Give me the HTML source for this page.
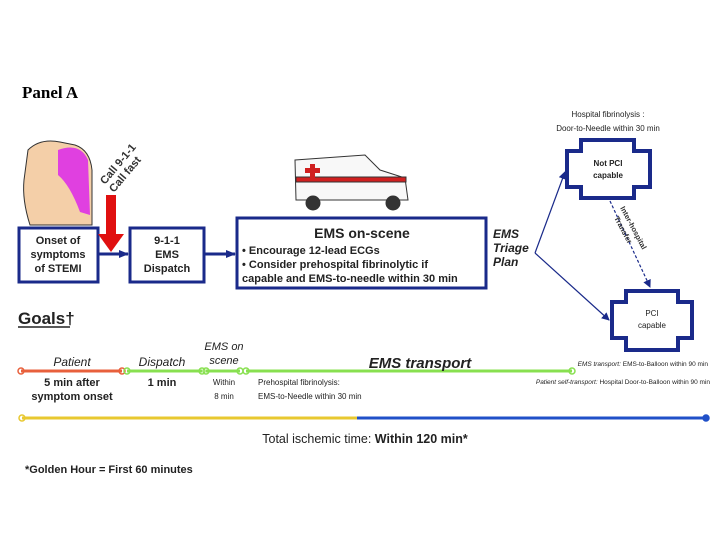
<!DOCTYPE html>
<html><head><style>
body{margin:0;background:#fff}
svg{display:block;font-family:"Liberation Sans",sans-serif}
</style></head><body>
<svg width="720" height="540" viewBox="0 0 720 540">
<defs>
<marker id="ah" markerUnits="userSpaceOnUse" markerWidth="8" markerHeight="8" refX="7" refY="4" orient="auto"><path d="M0,0 L8,4 L0,8 z" fill="#1a2a8a"/></marker>
<marker id="ah2" markerUnits="userSpaceOnUse" markerWidth="10" markerHeight="10" refX="9" refY="5" orient="auto"><path d="M0,1 L10,5 L0,9 z" fill="#1a2a8a"/></marker>
</defs>
<text x="22" y="98" font-family="Liberation Serif" font-weight="bold" font-size="17">Panel A</text>
<!-- person -->
<path d="M28,150 Q40,138 60,142 L75,145 Q90,150 92,170 L92,225 L30,225 Q22,200 24,180 Z" fill="#f4cfa8" stroke="#333" stroke-width="1"/>
<path d="M58,150 Q80,142 88,160 L90,215 L80,212 Q70,185 58,175 Z" fill="#e040e0"/>
<text transform="translate(105,185) rotate(-50)" font-size="11" font-weight="bold" fill="#333">Call 9-1-1</text>
<text transform="translate(114,193) rotate(-50)" font-size="11" font-weight="bold" fill="#333">Call fast</text>
<!-- boxes -->
<rect x="19" y="228" width="79" height="54" fill="#fff" stroke="#1a2a8a" stroke-width="3"/>
<text font-size="11" font-weight="bold" fill="#222" text-anchor="middle"><tspan x="58" y="244">Onset of</tspan><tspan x="58" y="258">symptoms</tspan><tspan x="58" y="272">of STEMI</tspan></text>
<rect x="130" y="228" width="74" height="54" fill="#fff" stroke="#1a2a8a" stroke-width="3"/>
<text font-size="11" font-weight="bold" fill="#222" text-anchor="middle"><tspan x="167" y="244">9-1-1</tspan><tspan x="167" y="258">EMS</tspan><tspan x="167" y="272">Dispatch</tspan></text>
<line x1="98" y1="254" x2="128" y2="254" stroke="#1a2a8a" stroke-width="3" marker-end="url(#ah2)"/>
<line x1="204" y1="254" x2="235" y2="254" stroke="#1a2a8a" stroke-width="3" marker-end="url(#ah2)"/>
<!-- red arrow -->
<rect x="106" y="195" width="10" height="40" fill="#e01010"/>
<path d="M98,234 L124,234 L111,252 Z" fill="#e01010"/>
<rect x="237" y="218" width="249" height="70" fill="#fff" stroke="#1a2a8a" stroke-width="3"/>
<text x="362" y="238" font-size="14" font-weight="bold" text-anchor="middle" fill="#222">EMS on-scene</text>
<text font-size="11" font-weight="bold" fill="#222"><tspan x="242" y="254">• Encourage 12-lead ECGs</tspan><tspan x="242" y="268">• Consider prehospital fibrinolytic if</tspan><tspan x="242" y="282">capable and EMS-to-needle within 30 min</tspan></text>
<!-- ambulance -->
<g stroke="#333" stroke-width="1">
<path d="M295,160 L365,155 L380,170 L405,178 L408,200 L296,200 Z" fill="#f8f8f8"/>
<rect x="296" y="177" width="110" height="5" fill="#d02020"/>
<rect x="310" y="164" width="5" height="14" fill="#d02020" stroke="none"/>
<rect x="305" y="168" width="15" height="5" fill="#d02020" stroke="none"/>
<circle cx="313" cy="203" r="7" fill="#333"/><circle cx="393" cy="203" r="7" fill="#333"/>
</g>
<text font-size="12" font-weight="bold" font-style="italic" fill="#222"><tspan x="493" y="238">EMS</tspan><tspan x="493" y="252">Triage</tspan><tspan x="493" y="266">Plan</tspan></text>
<!-- hospitals -->
<text x="608" y="117" font-size="8" text-anchor="middle" fill="#222">Hospital fibrinolysis :</text>
<text x="608" y="131" font-size="8" text-anchor="middle" fill="#222">Door-to-Needle within 30 min</text>
<path d="M581,140 L634,140 L634,151 L650,151 L650,187 L634,187 L634,198 L581,198 L581,187 L567,187 L567,151 L581,151 Z" fill="#fff" stroke="#1a2a8a" stroke-width="4"/>
<text font-size="8" font-weight="bold" text-anchor="middle" fill="#222"><tspan x="608" y="166">Not PCI</tspan><tspan x="608" y="178">capable</tspan></text>
<path d="M626,291 L678,291 L678,302 L692,302 L692,338 L678,338 L678,350 L626,350 L626,338 L612,338 L612,302 L626,302 Z" fill="#fff" stroke="#1a2a8a" stroke-width="4"/>
<text font-size="8" text-anchor="middle" fill="#222"><tspan x="652" y="316">PCI</tspan><tspan x="652" y="328">capable</tspan></text>
<line x1="535" y1="253" x2="565" y2="172" stroke="#1a2a8a" stroke-width="1.2" marker-end="url(#ah)"/>
<line x1="535" y1="253" x2="609" y2="320" stroke="#1a2a8a" stroke-width="1.2" marker-end="url(#ah)"/>
<line x1="610" y1="201" x2="650" y2="287" stroke="#1a2a8a" stroke-width="1.2" stroke-dasharray="3,2" marker-end="url(#ah)"/>
<text transform="translate(620,208) rotate(62)" font-size="7.5" font-weight="bold" fill="#333">Inter-hospital</text>
<text transform="translate(614,218) rotate(62)" font-size="7.5" font-weight="bold" fill="#333">Transfer</text>
<!-- goals -->
<text x="18" y="324" font-size="17" font-weight="bold" fill="#222">Goals†</text>
<line x1="18" y1="327" x2="70" y2="327" stroke="#222" stroke-width="1.5"/>
<g stroke-width="3">
<line x1="21" y1="371" x2="122" y2="371" stroke="#e8603c"/>
<line x1="127" y1="371" x2="202" y2="371" stroke="#88e050"/>
<line x1="206" y1="371" x2="240" y2="371" stroke="#88e050"/>
<line x1="246" y1="371" x2="572" y2="371" stroke="#88e050"/>
<line x1="22" y1="418" x2="357" y2="418" stroke="#e8c830"/>
<line x1="357" y1="418" x2="706" y2="418" stroke="#2050c8"/>
</g>
<g fill="none" stroke-width="1.5">
<circle cx="21" cy="371" r="3" stroke="#e8603c"/><circle cx="122" cy="371" r="3" stroke="#e8603c"/>
<circle cx="127" cy="371" r="3" stroke="#88e050"/><circle cx="202" cy="371" r="3" stroke="#88e050"/>
<circle cx="206" cy="371" r="3" stroke="#88e050"/><circle cx="240" cy="371" r="3" stroke="#88e050"/>
<circle cx="246" cy="371" r="3" stroke="#88e050"/><circle cx="572" cy="371" r="3" stroke="#88e050"/>
<circle cx="22" cy="418" r="3" stroke="#e8c830"/><circle cx="706" cy="418" r="3" stroke="#2050c8" fill="#2050c8"/>
</g>
<g font-style="italic" fill="#222" text-anchor="middle">
<text x="72" y="366" font-size="12">Patient</text>
<text x="162" y="366" font-size="12">Dispatch</text>
<text x="224" y="350" font-size="11">EMS on</text>
<text x="224" y="364" font-size="11">scene</text>
<text x="420" y="368" font-size="15" font-weight="bold">EMS transport</text>
</g>
<text font-size="11" font-weight="bold" fill="#222" text-anchor="middle"><tspan x="72" y="386">5 min after</tspan><tspan x="72" y="400">symptom onset</tspan><tspan x="162" y="386">1 min</tspan></text>
<text font-size="8" fill="#222" text-anchor="middle"><tspan x="224" y="385">Within</tspan><tspan x="224" y="399">8 min</tspan></text>
<text font-size="8" fill="#222"><tspan x="258" y="385">Prehospital fibrinolysis:</tspan><tspan x="258" y="399">EMS-to-Needle within 30 min</tspan></text>
<text x="708" y="366" font-size="6.5" text-anchor="end" fill="#222"><tspan font-style="italic">EMS transport:</tspan> EMS-to-Balloon within 90 min</text>
<text x="710" y="384" font-size="6.5" text-anchor="end" fill="#222"><tspan font-style="italic">Patient self-transport:</tspan> Hospital Door-to-Balloon within 90 min</text>
<text x="365" y="443" font-size="12.5" text-anchor="middle" fill="#222">Total ischemic time:  <tspan font-weight="bold">Within 120 min*</tspan></text>
<text x="25" y="473" font-size="11" font-weight="bold" fill="#222">*Golden Hour = First 60 minutes</text>
</svg>
</body></html>
